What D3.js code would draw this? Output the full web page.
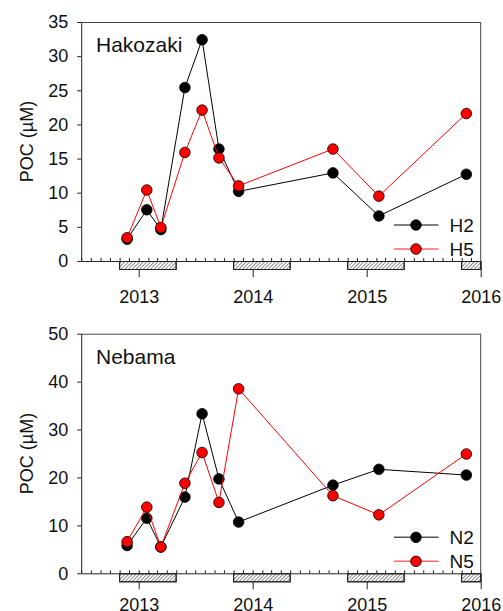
<!DOCTYPE html>
<html>
<head>
<meta charset="utf-8">
<script src="https://cdn.jsdelivr.net/npm/d3@7"></script>
<style>
  html, body { margin: 0; padding: 0; background: #fff; }
  svg { display: block; font-family: Arial, "Liberation Sans", sans-serif; }
</style>
</head>
<body>
<svg id="chart" width="503" height="611"></svg>
<script>
// ---- data ----
const sampleDates = ["2012-11-25","2013-01-27","2013-03-13","2013-05-29","2013-07-23",
                     "2013-09-15","2013-11-17","2014-09-15","2015-02-09","2015-11-16"];
const hakozakiH2 = [3.2, 7.5, 4.6, 25.4, 32.4, 16.4, 10.2, 12.9, 6.6, 12.7];
const hakozakiH5 = [3.4, 10.4, 4.9, 15.9, 22.1, 15.1, 11.0, 16.4, 9.5, 21.6];
const nebamaN2   = [5.8, 11.5, 5.5, 15.9, 33.3, 19.7, 10.7, 18.4, 21.7, 20.5];
const nebamaN5   = [6.6, 13.8, 5.5, 18.8, 25.2, 14.8, 38.5, 16.2, 12.2, 24.9];
const yearTicks  = ["2013-01-01","2014-01-01","2015-01-01","2016-01-01"];
const yearLabels = ["2013","2014","2015","2016"];
const hakozakiYTicks = [0, 5, 10, 15, 20, 25, 30, 35];
const nebamaYTicks   = [0, 10, 20, 30, 40, 50];
const periodStarts = ["2012-11-01","2013-11-01","2014-11-01","2015-11-01"];
const periodEnds   = ["2013-05-01","2014-05-01","2015-05-01","2016-01-01"];
const xDomain = ["2012-07-01","2016-01-01"];

const parse = d3.timeParse("%Y-%m-%d");
const svg = d3.select("#chart");

// hatch pattern
const defs = svg.append("defs");
defs.append("pattern")
  .attr("id", "hatch")
  .attr("patternUnits", "userSpaceOnUse")
  .attr("width", 2.6).attr("height", 2.6)
  .attr("patternTransform", "rotate(45)")
  .append("line")
  .attr("x1", 0).attr("y1", 0).attr("x2", 0).attr("y2", 2.6)
  .attr("stroke", "#222").attr("stroke-width", 1);

const left = 81.2, right = 480.7;
const x = d3.scaleTime().domain(xDomain.map(parse)).range([left, right]);

function panel(opts) {
  const { top, bottom, yMax, yTicks, title, s1, s2, n1, n2, labelPad } = opts;
  const y = d3.scaleLinear().domain([0, yMax]).range([bottom, top]);
  const g = svg.append("g");

  // frame top/right
  g.append("line").attr("x1", left).attr("x2", right).attr("y1", top + 0.5).attr("y2", top + 0.5)
    .attr("stroke", "#444").attr("stroke-width", 1);
  g.append("line").attr("x1", right).attr("x2", right).attr("y1", top).attr("y2", bottom)
    .attr("stroke", "#444").attr("stroke-width", 1);

  // y axis
  const ya = g.append("g").attr("transform", `translate(${left},0)`)
    .call(d3.axisLeft(y).tickValues(yTicks).tickSize(4).tickPadding(9).tickSizeOuter(0));
  ya.select(".domain").attr("stroke", "#222");
  ya.selectAll(".tick line").attr("stroke", "#222");
  ya.selectAll("text").attr("font-size", "18px").attr("fill", "#111").attr("font-family", "Arial, 'Liberation Sans', sans-serif");

  // minor monthly ticks (inside)
  const months = d3.timeMonth.range(x.domain()[0], x.domain()[1]);
  const xm = g.append("g").attr("transform", `translate(0,${bottom})`)
    .call(d3.axisTop(x).tickValues(months).tickSize(3).tickFormat("").tickSizeOuter(0));
  xm.select(".domain").remove();
  xm.selectAll(".tick line").attr("stroke", "#222");

  // major year ticks (outside)
  const xa = g.append("g").attr("transform", `translate(0,${bottom})`)
    .call(d3.axisBottom(x).tickValues(yearTicks.map(parse)).tickSize(16).tickPadding(labelPad)
      .tickFormat((d, i) => yearLabels[i]).tickSizeOuter(0));
  xa.select(".domain").attr("stroke", "#222");
  xa.selectAll(".tick line").attr("stroke", "#222");
  xa.selectAll("text").attr("font-size", "18px").attr("fill", "#111").attr("font-family", "Arial, 'Liberation Sans', sans-serif");

  // hatched period bars
  g.selectAll("rect.period").data(periodStarts).join("rect")
    .attr("class", "period")
    .attr("x", (d) => x(parse(d)))
    .attr("width", (d, i) => x(parse(periodEnds[i])) - x(parse(d)))
    .attr("y", bottom + 0.5).attr("height", 8)
    .attr("fill", "#fff").attr("stroke", "#222").attr("stroke-width", 1);
  g.selectAll("rect.periodh").data(periodStarts).join("rect")
    .attr("class", "periodh")
    .attr("x", (d) => x(parse(d)))
    .attr("width", (d, i) => x(parse(periodEnds[i])) - x(parse(d)))
    .attr("y", bottom + 0.5).attr("height", 8)
    .attr("fill", "url(#hatch)").attr("stroke", "#222").attr("stroke-width", 1);

  // y label
  g.append("text")
    .attr("transform", `translate(33,${(top + bottom) / 2}) rotate(-90)`)
    .attr("text-anchor", "middle")
    .attr("font-size", "18px").attr("fill", "#111")
    .text("POC (\u00B5M)");

  // title
  g.append("text").attr("x", 96).attr("y", top + 30)
    .attr("font-size", "21px").attr("fill", "#111").text(title);

  const line = d3.line().x((d, i) => x(parse(sampleDates[i]))).y((d) => y(d));
  const series = [
    { vals: s1, color: "#000", fill: "#000", legendColor: "#555", name: n1, ly: -36 },
    { vals: s2, color: "#ff0000", fill: "#ff0000", legendColor: "#ff6a6a", name: n2, ly: -12 }
  ];
  series.forEach((s) => {
    g.append("path").datum(s.vals).attr("d", line)
      .attr("fill", "none").attr("stroke", s.color).attr("stroke-width", 1);
    g.selectAll(null).data(s.vals).join("circle")
      .attr("cx", (d, i) => x(parse(sampleDates[i])))
      .attr("cy", (d) => y(d))
      .attr("r", 5.3)
      .attr("fill", s.fill).attr("stroke", "#000").attr("stroke-width", 0.8);
  });

  // legend
  series.forEach((s) => {
    const ly = bottom + s.ly;
    g.append("line").attr("x1", 394).attr("x2", 438.5).attr("y1", ly).attr("y2", ly)
      .attr("stroke", s.legendColor).attr("stroke-width", 1.5);
    g.append("circle").attr("cx", 416).attr("cy", ly).attr("r", 5.3)
      .attr("fill", s.fill).attr("stroke", "#000").attr("stroke-width", 0.8);
    g.append("text").attr("x", 449.5).attr("y", ly + 6.5)
      .attr("font-size", "19px").attr("fill", "#111").text(s.name);
  });
}

panel({ top: 22, bottom: 261, yMax: 35, yTicks: hakozakiYTicks, title: "Hakozaki",
        s1: hakozakiH2, s2: hakozakiH5, n1: "H2", n2: "H5", labelPad: 13 });
panel({ top: 333.7, bottom: 573.3, yMax: 50, yTicks: nebamaYTicks, title: "Nebama",
        s1: nebamaN2, s2: nebamaN5, n1: "N2", n2: "N5", labelPad: 9 });
</script>
</body>
</html>
